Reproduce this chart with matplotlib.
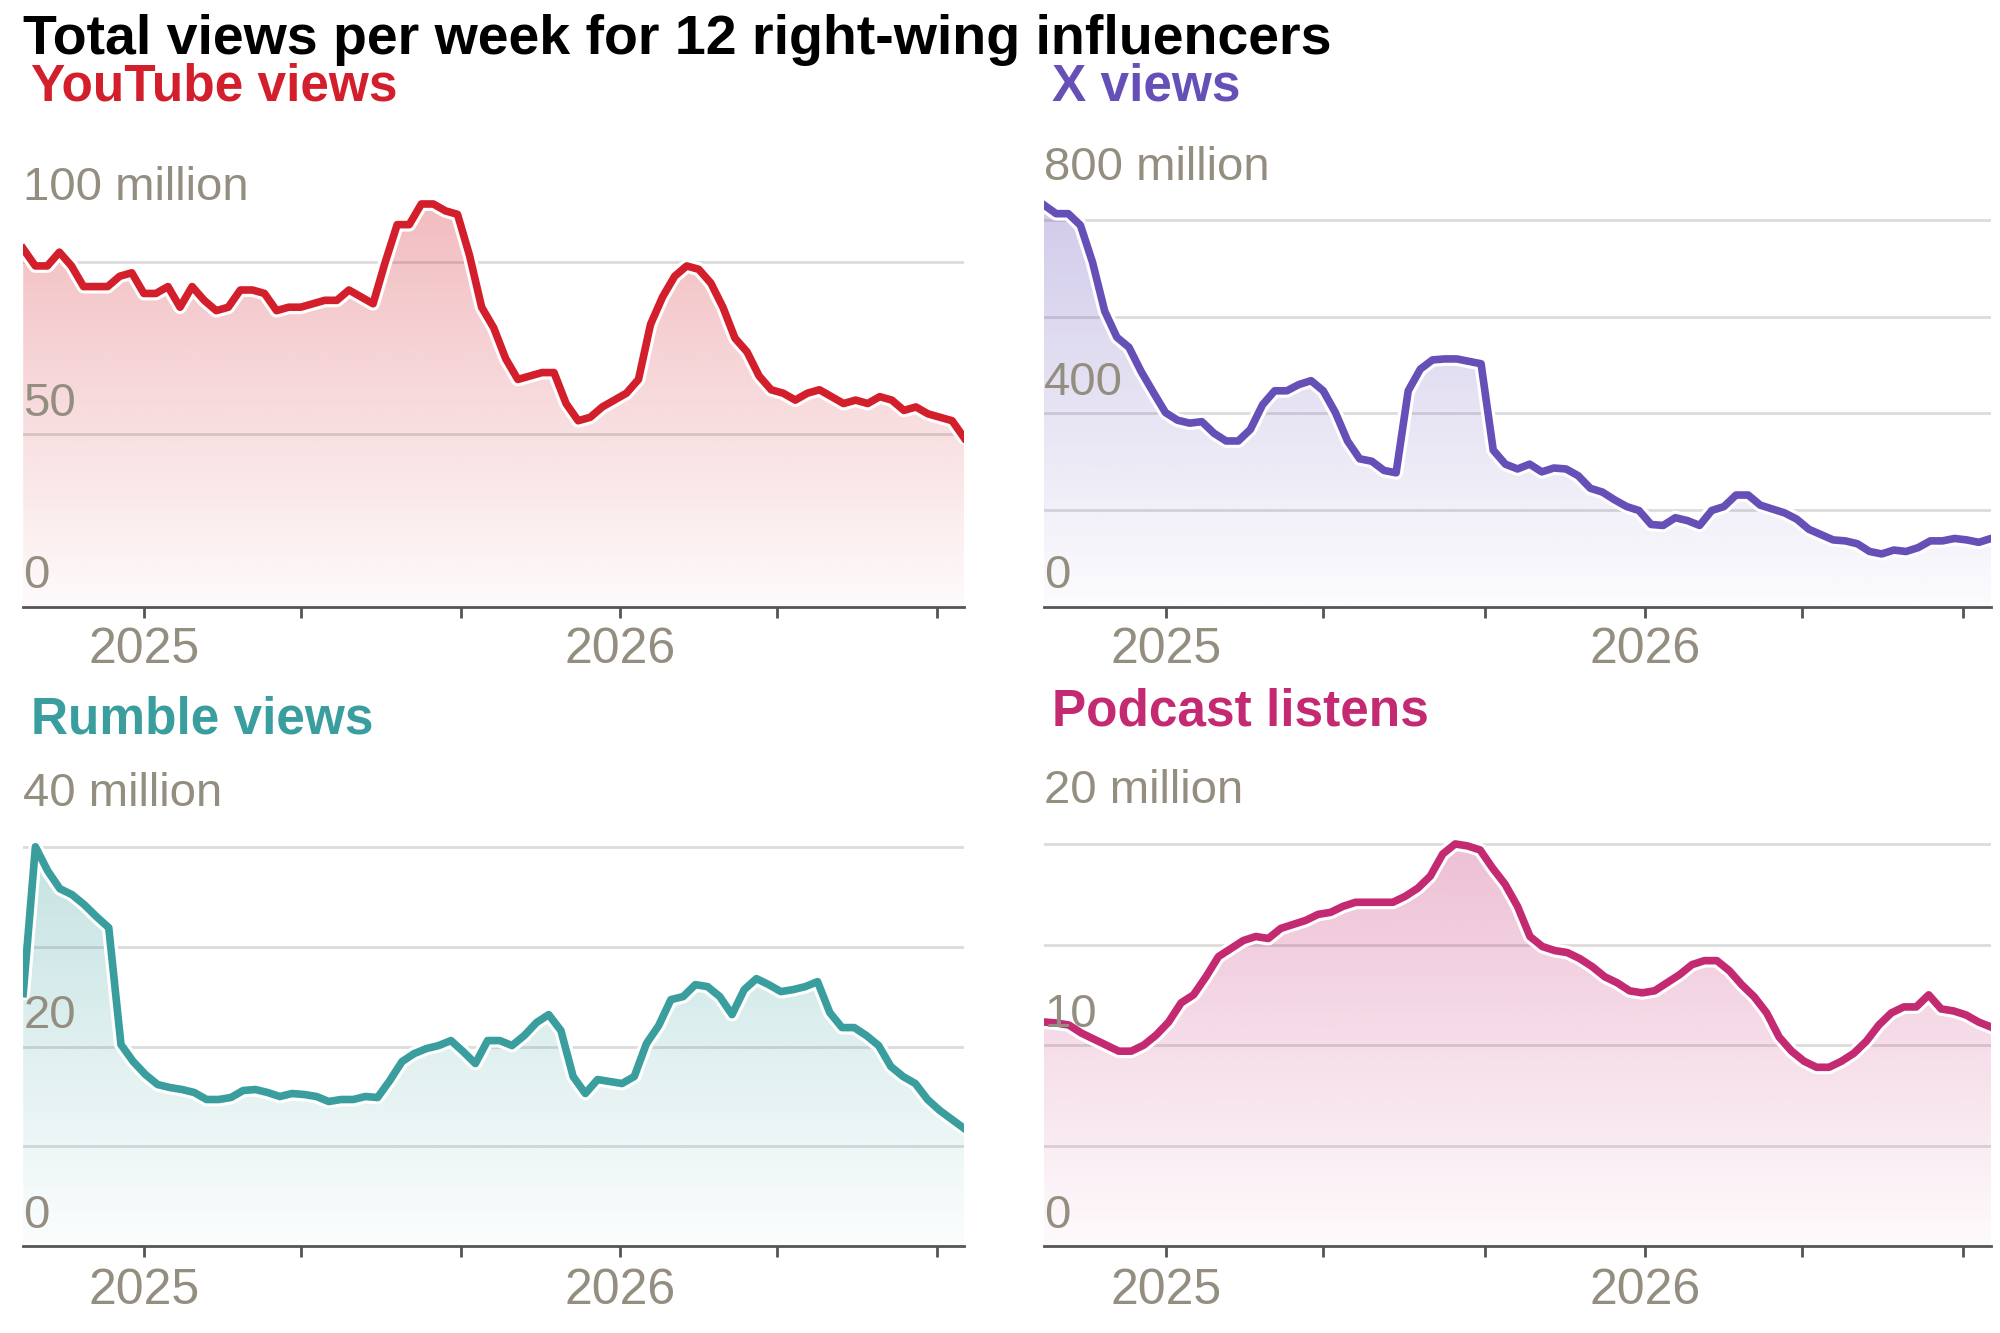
import matplotlib
matplotlib.use("Agg")
import matplotlib.pyplot as plt
import matplotlib.dates as mdates
import numpy as np
import pandas as pd
from matplotlib.colors import to_rgb
from matplotlib.path import Path
from matplotlib.patches import PathPatch

START, END = "2024-09-30", "2026-09-22"

youtube = [104,99,99,103,99,93,93,93,96,97,91,91,93,87,93,89,86,87,92,92,91,86,87,87,88,89,89,92,90,88,
           100,111,111,117,117,115,114,102,87,81,72,66,67,68,68,59,54,55,58,60,62,66,82,90,96,99,98,94,87,
           78,74,67,63,62,60,62,63,61,59,60,59,61,60,57,58,56,55,54,49]
xviews = [832,814,814,790,713,612,558,537,487,444,402,386,380,383,359,343,343,367,418,447,447,460,468,447,
          402,343,306,301,282,277,447,492,511,513,513,508,503,324,295,285,295,279,287,285,271,245,237,221,
          207,199,170,168,184,178,168,199,207,231,231,210,202,194,181,160,149,138,136,130,114,109,117,114,
          122,136,136,141,138,133,141]
rumble = [25.3,40,37.6,35.8,35.2,34.2,33,31.9,20.2,18.5,17.2,16.2,15.9,15.7,15.4,14.7,14.7,14.9,15.6,15.7,
          15.4,15.0,15.3,15.2,15.0,14.5,14.7,14.7,15.0,14.9,16.6,18.5,19.3,19.8,20.1,20.6,19.5,18.3,20.6,
          20.6,20.1,21.1,22.4,23.2,21.6,17.0,15.3,16.7,16.5,16.3,17.0,20.3,22.1,24.7,25.0,26.2,26.0,25.0,
          23.2,25.7,26.8,26.2,25.5,25.7,26.0,26.5,23.4,21.9,21.9,21.1,20.1,18.0,17.0,16.3,14.7,13.6,12.7,11.8]
podcast = [11.15,11.1,11.0,10.6,10.3,10.0,9.7,9.7,10.0,10.5,11.15,12.1,12.5,13.4,14.4,14.8,15.2,15.4,15.3,
           15.8,16.0,16.2,16.5,16.6,16.9,17.1,17.1,17.1,17.1,17.4,17.8,18.4,19.5,20.0,19.9,19.7,18.8,18.0,
           16.9,15.4,14.9,14.7,14.6,14.3,13.9,13.4,13.1,12.7,12.6,12.7,13.1,13.5,14.0,14.2,14.2,13.7,13.0,
           12.4,11.6,10.4,9.7,9.2,8.9,8.9,9.2,9.6,10.2,11.0,11.6,11.9,11.9,12.5,11.8,11.7,11.5,11.15,10.9]

panels = [
    ("YouTube views", youtube, "#d21f2b", 120.5, [50, 100], {0: "0", 50: "50", 100: "100 million"}, 0.935),
    ("X views", xviews, "#6650b8", 859, [200, 400, 600, 800], {0: "0", 400: "400", 800: "800 million"}, 0.935),
    ("Rumble views", rumble, "#3a9e9e", 42.7, [10, 20, 30, 40], {0: "0", 20: "20", 40: "40 million"}, 0.46),
    ("Podcast listens", podcast, "#c42a72", 21.2, [5, 10, 15, 20], {0: "0", 10: "10", 20: "20 million"}, 0.466),
]
positions = [(0.0116, 0.545, 0.4705, 0.311), (0.522, 0.545, 0.4735, 0.311),
             (0.0116, 0.065, 0.4705, 0.32), (0.522, 0.065, 0.4735, 0.32)]

FONT = ["Liberation Sans Narrow", "Liberation Sans", "DejaVu Sans"]
GREY = "#948e80"

fig = plt.figure(figsize=(20, 13.33), dpi=100)
fig.text(0.0116, 0.97, "Total views per week for 12 right-wing influencers", fontsize=40,
         fontweight="bold", family=FONT, va="center", ha="left")

for (title, vals, col, ymax, grid, labels, ty), pos in zip(panels, positions):
    ax = fig.add_axes(pos)
    dates = pd.date_range(START, END, periods=len(vals))
    xn = mdates.date2num(dates)
    v = np.array(vals, float)
    ax.set_xlim(xn[0], xn[-1])
    ax.set_ylim(0, ymax)
    for g in grid:
        ax.axhline(g, color="#dcdcdc", lw=2, zorder=0)
    r, g_, b = to_rgb(col)
    grad = np.zeros((256, 1, 4))
    grad[..., 0], grad[..., 1], grad[..., 2] = r, g_, b
    grad[:, 0, 3] = np.linspace(0.02, 0.30, 256)
    im = ax.imshow(grad, aspect="auto", origin="lower",
                   extent=[xn[0], xn[-1], 0, v.max()], zorder=1)
    verts = np.vstack([np.column_stack([xn, v]), [[xn[-1], 0], [xn[0], 0]]])
    patch = PathPatch(Path(verts), facecolor="none", edgecolor="none")
    ax.add_patch(patch)
    im.set_clip_path(patch)
    ax.plot(xn, v, color="white", lw=10, zorder=2, solid_capstyle="round")
    ax.plot(xn, v, color=col, lw=5.5, zorder=3, solid_joinstyle="round")
    top = max(labels)
    for val, lab in labels.items():
        off = 22 if val == top else 6
        if val == top and title.startswith("YouTube"):
            off = 38
        ax.annotate(lab, (0.0, val), xycoords=ax.get_yaxis_transform(), xytext=(0, off),
                    textcoords="offset points", fontsize=34, color=GREY, family=FONT,
                    ha="left", va="bottom", zorder=4)
    fig.text(pos[0] + 0.004, ty, title, fontsize=37, fontweight="bold", color=col,
             family=FONT, ha="left", va="center")
    for s in ["top", "right", "left"]:
        ax.spines[s].set_visible(False)
    ax.spines["bottom"].set_color("#555555")
    ax.spines["bottom"].set_linewidth(2)
    ax.set_yticks([])
    ax.xaxis.set_major_locator(mdates.MonthLocator(bymonth=[1, 5, 9]))
    ax.xaxis.set_major_formatter(plt.NullFormatter())
    ax.tick_params(axis="x", length=8, width=2, color="#555555")
    for yr in [2025, 2026]:
        ax.text(mdates.date2num(pd.Timestamp(f"{yr}-01-01")), -0.05, str(yr),
                transform=ax.get_xaxis_transform(), fontsize=36, color=GREY, family=FONT,
                ha="center", va="top")

fig.savefig("out.png", dpi=100)
